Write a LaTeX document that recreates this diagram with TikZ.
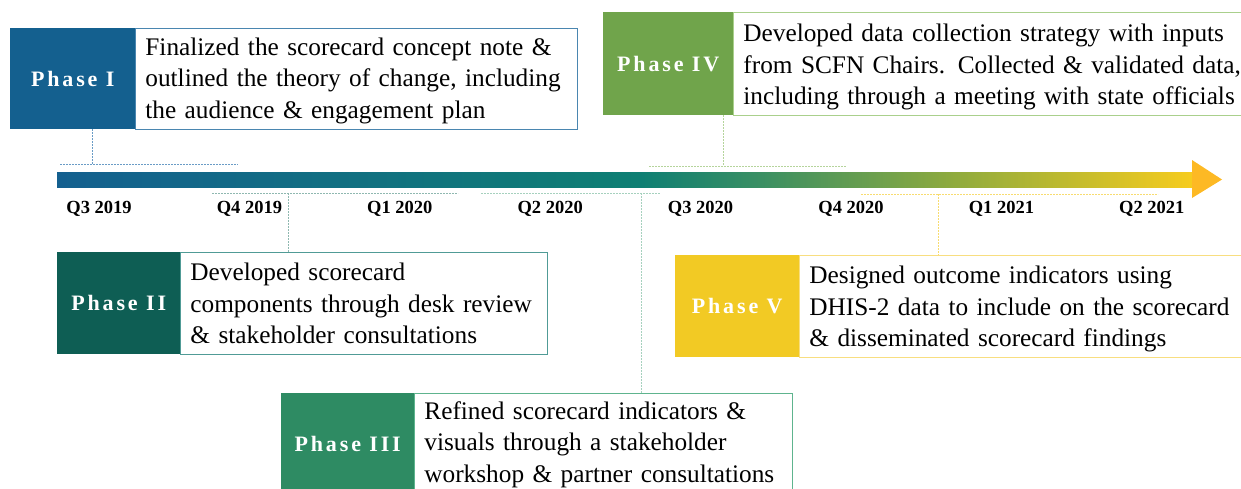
\documentclass[tikz,border=0pt]{standalone}
\usepackage{fontspec}
\setmainfont{Liberation Serif}
\newfontfamily\labfamily[LetterSpace=13]{Liberation Serif}
\newcommand\oneline[1]{\mbox{#1}}
\newcommand\firstline[2]{\mbox{\rule{0pt}{#1}#2}}
\definecolor{cA}{HTML}{14608F}
\definecolor{cB}{HTML}{0E7F73}
\definecolor{cC}{HTML}{3A8F63}
\definecolor{cD}{HTML}{8DAA3E}
\definecolor{cE}{HTML}{F6CC1E}
\definecolor{headc}{HTML}{FDB924}
\definecolor{p1}{HTML}{14608F}
\definecolor{p2}{HTML}{0E5E54}
\definecolor{p3}{HTML}{2E8B63}
\definecolor{p4}{HTML}{70A44B}
\definecolor{p5}{HTML}{F2CA24}
\definecolor{b1}{HTML}{4A86B0}
\definecolor{b2}{HTML}{509B96}
\definecolor{b3}{HTML}{5EB48E}
\definecolor{b4}{HTML}{AAD08C}
\definecolor{b5}{HTML}{F8DE80}
\definecolor{d1}{HTML}{6A9CC6}
\definecolor{d2}{HTML}{8FB8B0}
\definecolor{d3}{HTML}{A6D1BE}
\definecolor{d4}{HTML}{B5D49B}
\definecolor{d5}{HTML}{F8DC70}
\pgfdeclarehorizontalshading{barshade}{100bp}{color(0bp)=(cA); color(25bp)=(cA); color(50.7bp)=(cB); color(56bp)=(cC); color(64.3bp)=(cD); color(75bp)=(cE); color(100bp)=(cE)}
\tikzset{
  lab/.style={fill=#1, text=white, font=\labfamily\bfseries\fontsize{22}{24}\selectfont, inner sep=0pt, anchor=north west},
  desc/.style={draw=#1, line width=0.8pt, fill=white, font=\fontsize{25.3}{31.5}\selectfont, align=left, inner xsep=10pt, inner ysep=0pt, anchor=north west},
  qlab/.style={font=\bfseries\fontsize{18.5}{20}\selectfont, text=black},
  conn/.style={draw=#1, line width=1pt, dash pattern=on 2pt off 1pt},
}
\begin{document}
\begin{tikzpicture}[x=1pt,y=-1pt]
\useasboundingbox (0,0) rectangle (1241,488);
% timeline bar
\fill[shading=barshade] (57,172) rectangle (1192,187);
\fill[headc] (1192,160) -- (1222,179.5) -- (1192,198) -- cycle;
% quarters
\foreach \i/\t in {0/Q3 2019,1/Q4 2019,2/Q1 2020,3/Q2 2020,4/Q3 2020,5/Q4 2020,6/Q1 2021,7/Q2 2021}
  \node[qlab] (q\i) at ({99+150.4*\i},209) {\t};
% Phase I
\node[lab=p1, minimum width=125pt, minimum height=101pt] (l1) at (10,28) {Phase I};
\node[desc=b1, minimum width=442pt, minimum height=101pt, text width=422pt] (t1) at (135,28)
  {\firstline{21pt}{Finalized the scorecard concept note \&}\\\oneline{outlined the theory of change, including}\\\oneline{the audience \& engagement plan}};
% Phase II
\node[lab=p2, minimum width=123pt, minimum height=102pt] (l2) at (57,252) {Phase II};
\node[desc=b2, minimum width=367pt, minimum height=102pt, text width=347pt] (t2) at (180,252)
  {\oneline{Developed scorecard}\\\oneline{components through desk review}\\\oneline{\& stakeholder consultations}};
% Phase III
\node[lab=p3, minimum width=133pt, minimum height=101pt] (l3) at (281,393) {Phase III};
\node[desc=b3, minimum width=378pt, minimum height=101pt, text width=358pt] (t3) at (414,393)
  {\firstline{19pt}{Refined scorecard indicators \&}\\\oneline{visuals through a stakeholder}\\\oneline{workshop \& partner consultations}};
% Phase IV
\node[lab=p4, minimum width=130pt, minimum height=103pt] (l4) at (603,12) {Phase IV};
\node[desc=b4, minimum width=520pt, minimum height=103pt, text width=500pt] (t4) at (733,12)
  {\firstline{24pt}{Developed data collection strategy with inputs}\\\oneline{from SCFN Chairs. Collected \& validated data,}\\\oneline{including through a meeting with state officials}};
% Phase V
\node[lab=p5, minimum width=124pt, minimum height=102pt] (l5) at (675,255) {Phase V};
\node[desc=b5, minimum width=460pt, minimum height=102pt, text width=440pt] (t5) at (799,255)
  {\firstline{23pt}{Designed outcome indicators using}\\\oneline{DHIS-2 data to include on the scorecard}\\\oneline{\& disseminated scorecard findings}};
% connectors
\coordinate (k1) at (92,164);
\coordinate (h1a) at (60,164); \coordinate (h1b) at (238,164);
\draw[conn=d1] (l1.south -| k1) -- (k1);
\draw[conn=d1] (h1a) -- (h1b);
\coordinate (k2) at (288,193);
\coordinate (h2a) at (212,193); \coordinate (h2b) at (458,193);
\draw[conn=d2] (k2) -- (t2.north -| k2);
\draw[conn=d2] (h2a) -- (h2b);
\coordinate (k3) at (641,193);
\coordinate (h3a) at (481,193); \coordinate (h3b) at (660,193);
\draw[conn=d3] (k3) -- (t3.north -| k3);
\draw[conn=d3] (h3a) -- (h3b);
\coordinate (k4) at (723,166);
\coordinate (h4a) at (649,166); \coordinate (h4b) at (846,166);
\draw[conn=d4] (l4.south -| k4) -- (k4);
\draw[conn=d4] (h4a) -- (h4b);
\coordinate (k5) at (938,194);
\coordinate (h5a) at (861,194); \coordinate (h5b) at (1158,194);
\draw[conn=d5] (k5) -- (t5.north -| k5);
\draw[conn=d5] (h5a) -- (h5b);
\end{tikzpicture}
\end{document}
